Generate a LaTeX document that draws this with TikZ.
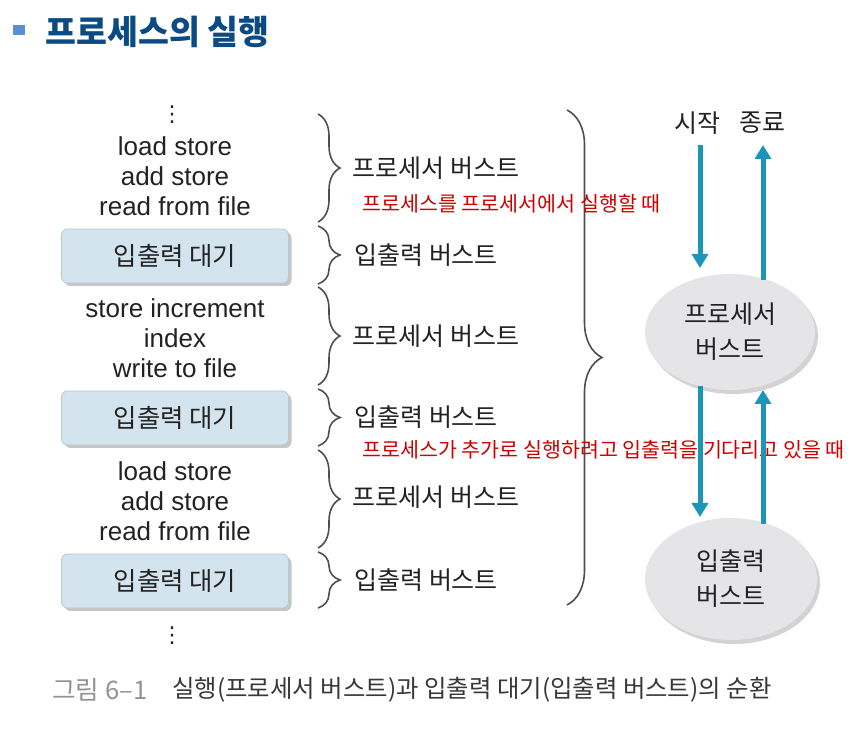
\documentclass[tikz,border=0pt]{standalone}
\usepackage{fontspec}
\setmainfont{Liberation Sans}
\newfontfamily\kr{Noto Sans CJK KR}
\newfontfamily\symb{DejaVu Sans}
\usetikzlibrary{shapes.geometric,arrows.meta,decorations.pathreplacing,shadows}

\definecolor{titleblue}{HTML}{0B4A82}
\definecolor{bulletblue}{HTML}{5A8FD8}
\definecolor{boxfill}{HTML}{D3E4EE}
\definecolor{boxline}{HTML}{B7C9D3}
\definecolor{burstfill}{HTML}{E5E5E8}
\definecolor{flowteal}{HTML}{1C95B8}
\definecolor{notered}{HTML}{CC0000}
\definecolor{inkdark}{HTML}{222222}

\tikzset{
  code/.style={align=center, text=inkdark, font=\fontsize{13}{15}\selectfont, inner sep=0pt},
  vdot/.style={inner sep=0pt, text=inkdark, font=\symb\fontsize{11}{12}\selectfont},
  iobox/.style={draw=boxline, fill=boxfill, rounded corners=3pt, minimum width=113.5pt,
    minimum height=27pt, text=inkdark, font=\kr\fontsize{12.7}{14}\selectfont,
    drop shadow={opacity=0.45, shadow xshift=1.5pt, shadow yshift=-1.5pt}},
  lbl/.style={anchor=west, inner sep=0pt, text=inkdark, font=\kr\fontsize{12.5}{14}\selectfont},
  note/.style={anchor=west, inner sep=0pt, text=notered, font=\kr\fontsize{10.3}{12}\selectfont},
  burst/.style={ellipse, fill=burstfill, inner sep=0pt, align=center, text=inkdark,
    font=\kr\fontsize{12.5}{17.5}\selectfont,
    drop shadow={opacity=0.35, shadow xshift=1.5pt, shadow yshift=-2pt}},
  flow/.style={draw=flowteal, line width=2.5pt, -{Triangle[width=8pt,length=7pt]}},
  brace/.style={draw=inkdark!80, thick, decorate, decoration={brace, amplitude=#1}},
}

\begin{document}
\begin{tikzpicture}[x=0.5pt, y=-0.5pt]
  \useasboundingbox (0,0) rectangle (864,732);

  % title
  \fill[bulletblue] (13,25) rectangle (25,35);
  \node[anchor=west, inner sep=0pt, text=titleblue, font=\kr\bfseries\fontsize{16.8}{18}\selectfont]
    (title) at (45,32) {프로세스의 실행};

  % program trace, left column
  \node[vdot] (dots1) at (172,115) {⋮};
  \node[code] (run1) at (175,176) {load store\\add store\\read from file};
  \node[iobox] (wait1) at (175,256) {입출력 대기};
  \node[code] (run2) at (175,338) {store increment\\index\\write to file};
  \node[iobox] (wait2) at (175,418) {입출력 대기};
  \node[code] (run3) at (175,501) {load store\\add store\\read from file};
  \node[iobox] (wait3) at (175,581) {입출력 대기};
  \node[vdot] (dots2) at (172,636) {⋮};

  % small braces
  \draw[brace=11pt] (318,114) -- (318,222);
  \draw[brace=11pt] (318,226) -- (318,284);
  \draw[brace=11pt] (318,287) -- (318,385);
  \draw[brace=11pt] (318,389) -- (318,446);
  \draw[brace=11pt] (318,450) -- (318,548);
  \draw[brace=11pt] (318,552) -- (318,608);

  \node[lbl] (cpu1) at (352,168) {프로세서 버스트};
  \node[lbl] (io1) at (354,255) {입출력 버스트};
  \node[lbl] (cpu2) at (352,336) {프로세서 버스트};
  \node[lbl] (io2) at (354,417) {입출력 버스트};
  \node[lbl] (cpu3) at (352,497) {프로세서 버스트};
  \node[lbl] (io3) at (354,580) {입출력 버스트};

  % big brace
  \draw[brace=17.5pt] (567,110) -- (567,605);

  % red notes
  \node[note] (note1) at (362,204) {프로세스를 프로세서에서 실행할 때};
  \node[note] (note2) at (362,450) {프로세스가 추가로 실행하려고 입출력을 기다리고 있을 때};

  % cycle on the right
  \node[lbl, anchor=center] (start) at (697,123) {시작};
  \node[lbl, anchor=center] (finish) at (762,123) {종료};
  \node[burst, minimum width=85pt, minimum height=58pt] (proc) at (730,332) {프로세서\\버스트};
  \node[burst, minimum width=86pt, minimum height=61pt] (iob) at (731,579) {입출력\\버스트};

  \coordinate (inTop) at (700,145);
  \coordinate (inEnd) at (700,268);
  \coordinate (outTop) at (763,145);
  \coordinate (outBeg) at (763,280);
  \coordinate (downBeg) at (700,386);
  \coordinate (downEnd) at (700,517);
  \coordinate (upBeg) at (763,524);
  \coordinate (upEnd) at (763,390);

  \draw[flow] (inTop) -- (inEnd);
  \draw[flow] (outBeg) -- (outTop);
  \draw[flow] (downBeg) -- (downEnd);
  \draw[flow] (upBeg) -- (upEnd);

  % caption
  \node[anchor=west, inner sep=0pt, text=gray!85, font=\kr\fontsize{12.8}{14}\selectfont]
    (capnum) at (52,690) {그림 6–1};
  \node[anchor=west, inner sep=0pt, text=inkdark!90, font=\kr\fontsize{12.2}{14}\selectfont]
    (captext) at (172,690) {실행(프로세서 버스트)과 입출력 대기(입출력 버스트)의 순환};
\end{tikzpicture}
\end{document}
